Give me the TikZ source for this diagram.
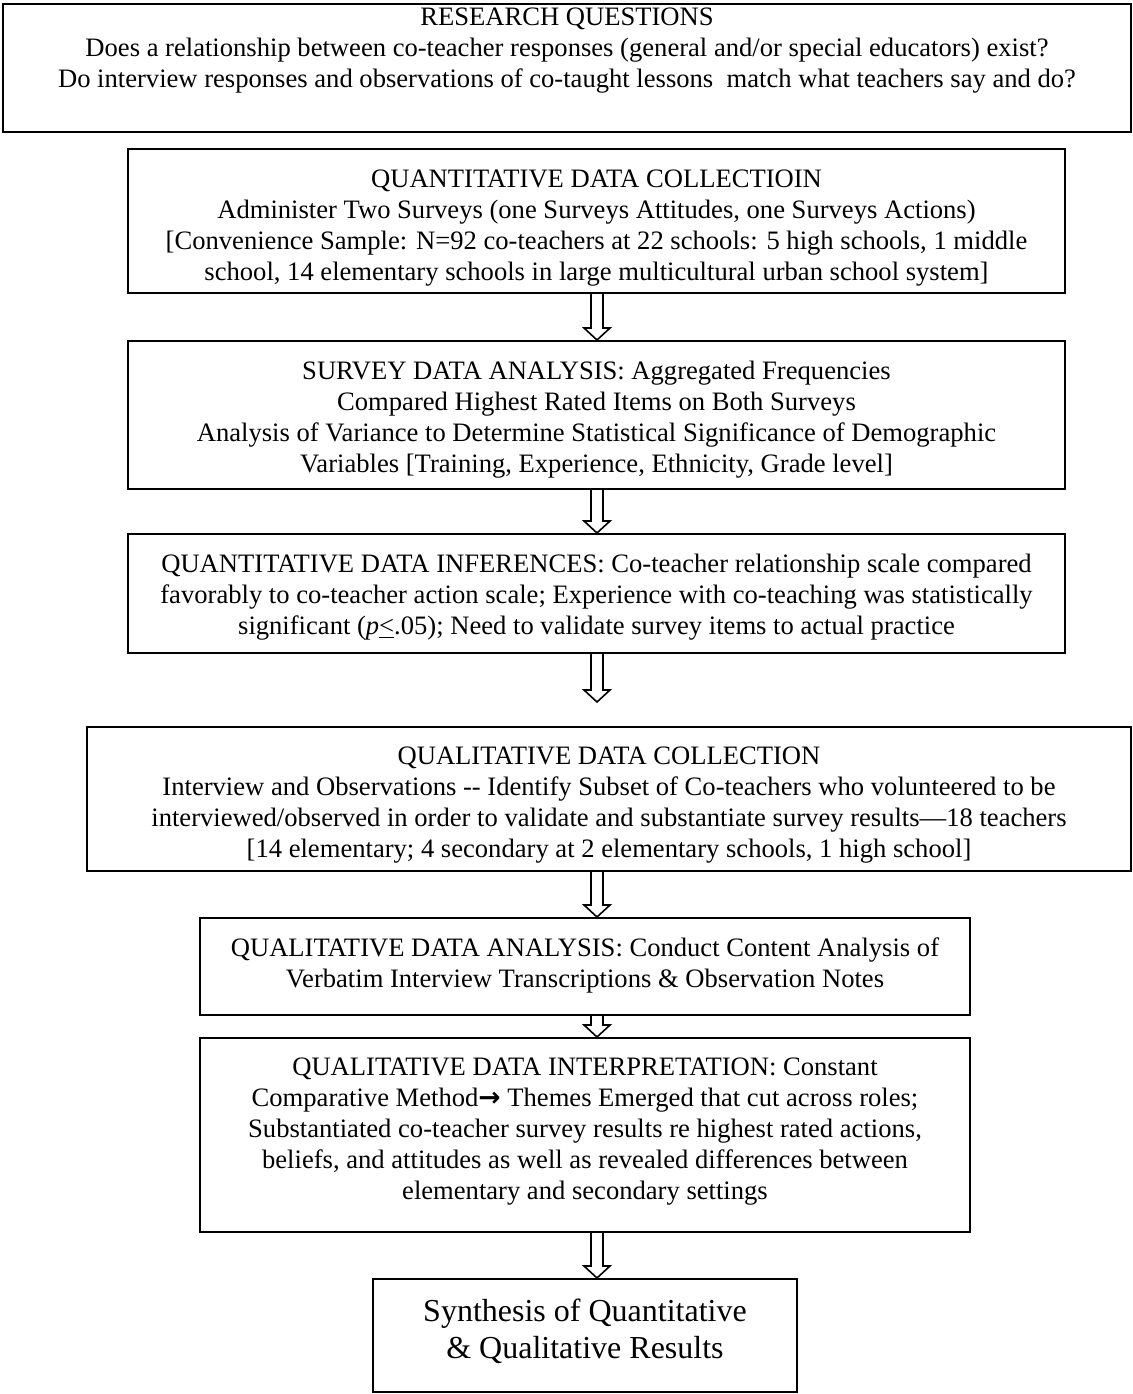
\documentclass[tikz,border=0pt]{standalone}
\usepackage{fontspec}
\setmainfont{Liberation Serif}
\newfontfamily\arrowfont{DejaVu Sans}
\usetikzlibrary{positioning,calc}

% hollow block arrow from the bottom of one box to the top of the next
\newcommand{\flowarrow}[3][0pt]{%
  \draw[flowarrow] let \p1=(#2.south -| arrowx), \p2=($(#3.north -| arrowx)+(0,#1)$) in
    (\x1-3pt,\y1) -- (\x1-3pt,\y2+6pt) -- (\x1-6.5pt,\y2+6pt) -- (\x2,\y2)
    -- (\x1+6.5pt,\y2+6pt) -- (\x1+3pt,\y2+6pt) -- (\x1+3pt,\y1);}

\begin{document}
\begin{tikzpicture}[x=0.5pt,y=-0.5pt,
    flowbox/.style={draw,line width=1pt,inner sep=0pt},
    boxtext/.style={inner sep=0pt,align=center,font=\fontsize{13.3}{15.5}\selectfont},
    bigtext/.style={inner sep=0pt,align=center,font=\fontsize{16}{18.5}\selectfont},
    flowarrow/.style={draw,line width=0.8pt,line join=miter,fill=white}]
  \useasboundingbox (0,0) rectangle (1132,1394);
  \coordinate (arrowx) at (597,0);

  % research questions
  \node[flowbox,minimum width=564pt,minimum height=64pt] (research) at (567,68) {};
  \node[boxtext,below=2pt of research.north] (researchtxt) {RESEARCH QUESTIONS\\
    Does a relationship between co-teacher responses (general and/or special educators) exist?\\
    Do interview responses and observations of co-taught lessons\ \ match what teachers say and do?};

  % quantitative strand
  \node[flowbox,minimum width=468.5pt,minimum height=72pt] (quantcoll) at (596.5,221) {};
  \node[boxtext,below=10.5pt of quantcoll.north] (quantcolltxt) {QUANTITATIVE DATA COLLECTIOIN\\
    Administer Two Surveys (one Surveys Attitudes, one Surveys Actions)\\
    {[}Convenience Sample: N=92 co-teachers at 22 schools: 5 high schools, 1 middle\\
    school, 14 elementary schools in large multicultural urban school system]};

  \node[flowbox,minimum width=468.5pt,minimum height=74pt] (survey) at (596.5,415) {};
  \node[boxtext,below=10.5pt of survey.north] (surveytxt) {SURVEY DATA ANALYSIS: Aggregated Frequencies\\
    Compared Highest Rated Items on Both Surveys\\
    Analysis of Variance to Determine Statistical Significance of Demographic\\
    Variables [Training, Experience, Ethnicity, Grade level]};

  \node[flowbox,minimum width=468.5pt,minimum height=59.5pt] (quantinf) at (596.5,593.5) {};
  \node[boxtext,below=10.5pt of quantinf.north] (quantinftxt) {QUANTITATIVE DATA INFERENCES: Co-teacher relationship scale compared\\
    favorably to co-teacher action scale; Experience with co-teaching was statistically\\
    significant (\textit{p}\underline{<}.05); Need to validate survey items to actual practice};

  % qualitative strand
  \node[flowbox,minimum width=522pt,minimum height=72pt] (qualcoll) at (609,799) {};
  \node[boxtext,below=10pt of qualcoll.north] (qualcolltxt) {QUALITATIVE DATA COLLECTION\\
    Interview and Observations -{}- Identify Subset of Co-teachers who volunteered to be\\
    interviewed/observed in order to validate and substantiate survey results—18 teachers\\
    {[}14 elementary; 4 secondary at 2 elementary schools, 1 high school]};

  \node[flowbox,minimum width=385pt,minimum height=48.5pt] (qualanal) at (585,966.5) {};
  \node[boxtext,below=10pt of qualanal.north] (qualanaltxt) {QUALITATIVE DATA ANALYSIS: Conduct Content Analysis of\\
    Verbatim Interview Transcriptions \& Observation Notes};

  \node[flowbox,minimum width=385pt,minimum height=97pt] (qualinterp) at (585,1135) {};
  \node[boxtext,below=10pt of qualinterp.north] (qualinterptxt) {QUALITATIVE DATA INTERPRETATION: Constant\\
    Comparative Method{\arrowfont\bfseries →} Themes Emerged that cut across roles;\\
    Substantiated co-teacher survey results re highest rated actions,\\
    beliefs, and attitudes as well as revealed differences between\\
    elementary and secondary settings};

  % synthesis
  \node[flowbox,minimum width=212pt,minimum height=56.5pt] (synth) at (585,1335.5) {};
  \node[bigtext,below=10.5pt of synth.north] (synthtxt) {Synthesis of Quantitative\\
    \& Qualitative Results};

  % block arrows
  \flowarrow{quantcoll}{survey}
  \flowarrow{survey}{quantinf}
  \flowarrow[12pt]{quantinf}{qualcoll}
  \flowarrow{qualcoll}{qualanal}
  \flowarrow{qualanal}{qualinterp}
  \flowarrow{qualinterp}{synth}
\end{tikzpicture}
\end{document}
